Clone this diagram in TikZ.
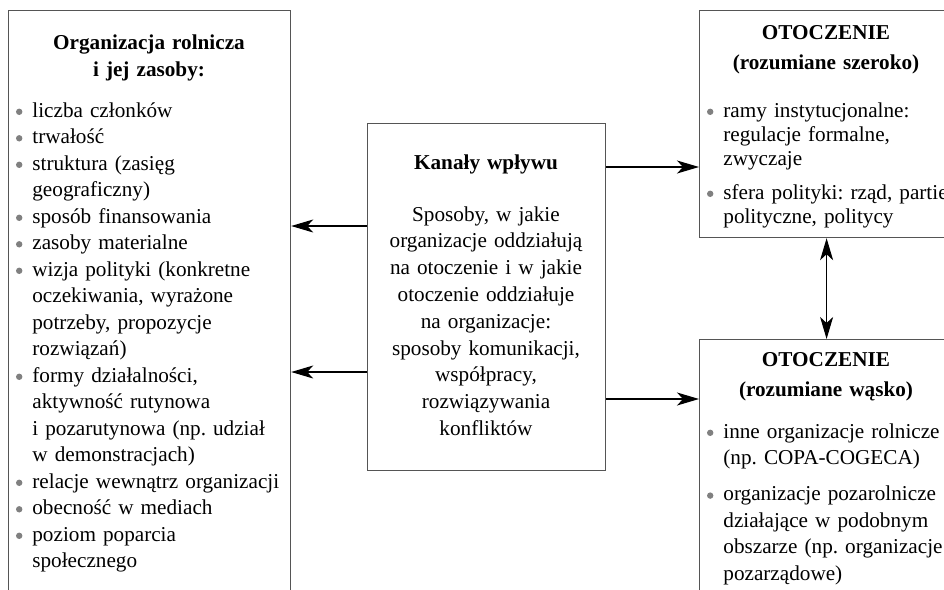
\documentclass[tikz,border=0pt]{standalone}
\usepackage{fontspec}
\setmainfont{Liberation Serif}
\usetikzlibrary{arrows.meta,positioning}

\definecolor{ramka}{HTML}{555555}
\definecolor{kropka}{HTML}{808080}
\newlength{\wciecie}
\setlength{\wciecie}{8.5pt}
\newcommand{\kulka}{\tikz[baseline=-2.6pt]\fill[kropka] (0,0) circle (1.6pt);}
\newcommand{\punkt}[1]{\noindent\hangindent=\wciecie\hangafter=1%
  \makebox[\wciecie][l]{\hspace{0.3pt}\kulka}#1\par}
\newcommand{\odstep}{\vspace{5pt}}

\tikzset{
  pole/.style={draw=ramka, line width=0.6pt, rectangle, anchor=north west, inner sep=0pt},
  tytul/.style={font=\fontsize{10.6pt}{13.5pt}\selectfont\bfseries, align=center,
    text width=130pt, inner sep=0pt, anchor=base},
  lista/.style={font=\fontsize{10.6pt}{13.25pt}\selectfont\frenchspacing, align=left,
    text width=135pt, inner sep=0pt, anchor=base west},
  pijl/.style={-{Stealth[length=11pt,width=6.5pt,inset=3pt]}, line width=0.55pt},
  pijl2/.style={{Stealth[length=11pt,width=6.5pt,inset=3pt]}-{Stealth[length=11pt,width=6.5pt,inset=3pt]}, line width=0.55pt}
}

\begin{document}
\begin{tikzpicture}[x=0.5pt,y=-0.5pt]
  \useasboundingbox (0,0) rectangle (944,590);
  \clip (0,0) rectangle (944,590);

  % ramki
  \node[pole, minimum width=141pt, minimum height=350pt] (org) at (8,10) {};
  \node[pole, minimum width=119pt, minimum height=173.5pt] (kanaly) at (367,123) {};
  \node[pole, minimum width=127pt, minimum height=113.5pt] (szer) at (699,10) {};
  \node[pole, minimum width=127pt, minimum height=200pt] (wask) at (699,339) {};

  % organizacja rolnicza
  \node[tytul] (orgtyt) at (149,49) {Organizacja rolnicza\\ i jej zasoby:};
  \node[lista] (orglista) at (15,117) {%
    \punkt{liczba członków}
    \punkt{trwałość}
    \punkt{struktura (zasięg\newline geograficzny)}
    \punkt{sposób finansowania}
    \punkt{zasoby materialne}
    \punkt{wizja polityki (konkretne\newline oczekiwania, wyrażone\newline potrzeby, propozycje\newline rozwiązań)}
    \punkt{formy działalności,\newline aktywność rutynowa\newline i pozarutynowa (np. udział\newline w demonstracjach)}
    \punkt{relacje wewnątrz organizacji}
    \punkt{obecność w mediach}
    \punkt{poziom poparcia\newline społecznego}};

  % kanaly wplywu
  \node[tytul] (kantyt) at (486,169) {Kanały wpływu};
  \node[tytul, font=\fontsize{10.6pt}{13.4pt}\selectfont] (kantekst) at (486,221)
    {Sposoby, w jakie\\ organizacje oddziałują\\ na otoczenie i w jakie\\ otoczenie oddziałuje\\
     na organizacje:\\ sposoby komunikacji,\\ współpracy,\\ rozwiązywania\\ konfliktów};

  % otoczenie szeroko
  \node[tytul, font=\fontsize{10.6pt}{15pt}\selectfont\bfseries] (szertyt) at (826,39)
    {OTOCZENIE\\ (rozumiane szeroko)};
  \node[lista, font=\fontsize{10.6pt}{12pt}\selectfont\frenchspacing] (szerlista) at (706,117) {%
    \punkt{ramy instytucjonalne:\newline regulacje formalne,\newline zwyczaje}\odstep
    \punkt{sfera polityki: rząd, partie\newline polityczne, politycy}};

  % otoczenie wasko
  \node[tytul, font=\fontsize{10.6pt}{15pt}\selectfont\bfseries] (wasktyt) at (826,366)
    {OTOCZENIE\\ (rozumiane wąsko)};
  \node[lista, font=\fontsize{10.6pt}{13.2pt}\selectfont\frenchspacing] (wasklista) at (706,438) {%
    \punkt{inne organizacje rolnicze\newline (np. COPA-COGECA)}\odstep
    \punkt{organizacje pozarolnicze\newline działające w podobnym\newline obszarze (np. organizacje\newline pozarządowe)}};

  % strzalki
  \draw[pijl] (kanaly.west |- 0,226) -- (org.east |- 0,226);
  \draw[pijl] (kanaly.west |- 0,372) -- (org.east |- 0,372);
  \draw[pijl] (kanaly.east |- 0,167) -- (szer.west |- 0,167);
  \draw[pijl] (kanaly.east |- 0,399) -- (wask.west |- 0,399);
  \draw[pijl2] (szer.south) -- (wask.north);
\end{tikzpicture}
\end{document}
